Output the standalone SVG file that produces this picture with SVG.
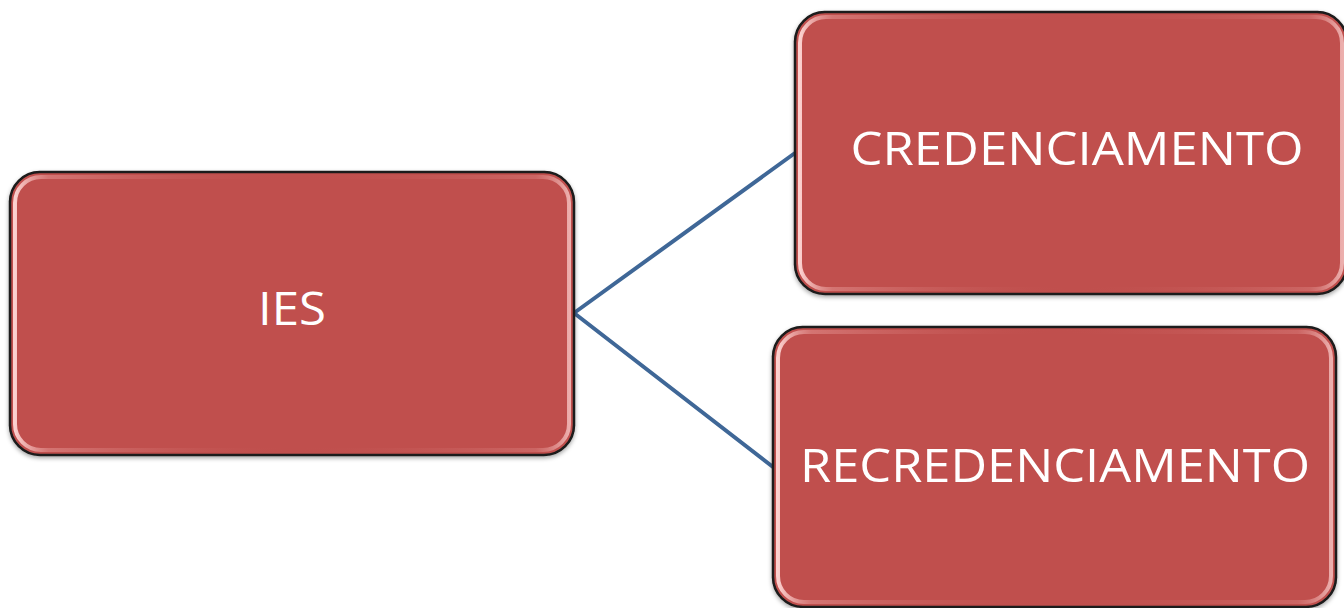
<svg xmlns="http://www.w3.org/2000/svg" width="1344" height="608" viewBox="0 0 1344 608">
<defs>
<style>
.box{fill:#c0504d;stroke:#1a1a1a;stroke-width:2.5}
.hl{fill:none;stroke:url(#hlg);stroke-width:4}
.lbl{font-family:"Open Sans","Liberation Sans",Arial,sans-serif;font-size:46px;fill:#ffffff;text-anchor:middle}
.conn{stroke:#3f6797;stroke-width:4;fill:none;stroke-linecap:round}
</style>
<linearGradient id="hlg" x1="0" y1="0" x2="1" y2="0">
<stop offset="0" stop-color="#ffd8d6" stop-opacity="0.95"/>
<stop offset="0.06" stop-color="#e89a98" stop-opacity="0.5"/>
<stop offset="0.5" stop-color="#c0504d" stop-opacity="0"/>
<stop offset="0.94" stop-color="#e89a98" stop-opacity="0.3"/>
<stop offset="1" stop-color="#ffd8d6" stop-opacity="0.7"/>
</linearGradient>
<filter id="sh" x="-5%" y="-5%" width="110%" height="115%">
<feDropShadow dx="0" dy="2" stdDeviation="2" flood-color="#000" flood-opacity="0.35"/>
</filter>
</defs>
<g id="connectors">
<line class="conn" x1="574" y1="313" x2="795" y2="153"/>
<line class="conn" x1="574" y1="313" x2="773" y2="467"/>
</g>
<g id="node-ies">
<rect class="box" x="10" y="172" width="564" height="283" rx="30" filter="url(#sh)"/>
<rect class="hl" x="15" y="177" width="554" height="273" rx="26"/>
<text class="lbl" x="292" y="325" textLength="68" lengthAdjust="spacingAndGlyphs">IES</text>
</g>
<g id="node-credenciamento">
<rect class="box" x="795" y="12" width="552" height="282" rx="30" filter="url(#sh)"/>
<rect class="hl" x="800" y="17" width="542" height="272" rx="26"/>
<text class="lbl" x="1077" y="165" textLength="453" lengthAdjust="spacingAndGlyphs">CREDENCIAMENTO</text>
</g>
<g id="node-recredenciamento">
<rect class="box" x="773" y="327" width="563" height="280" rx="30" filter="url(#sh)"/>
<rect class="hl" x="778" y="332" width="553" height="270" rx="26"/>
<text class="lbl" x="1055" y="482" textLength="510" lengthAdjust="spacingAndGlyphs">RECREDENCIAMENTO</text>
</g>
</svg>
